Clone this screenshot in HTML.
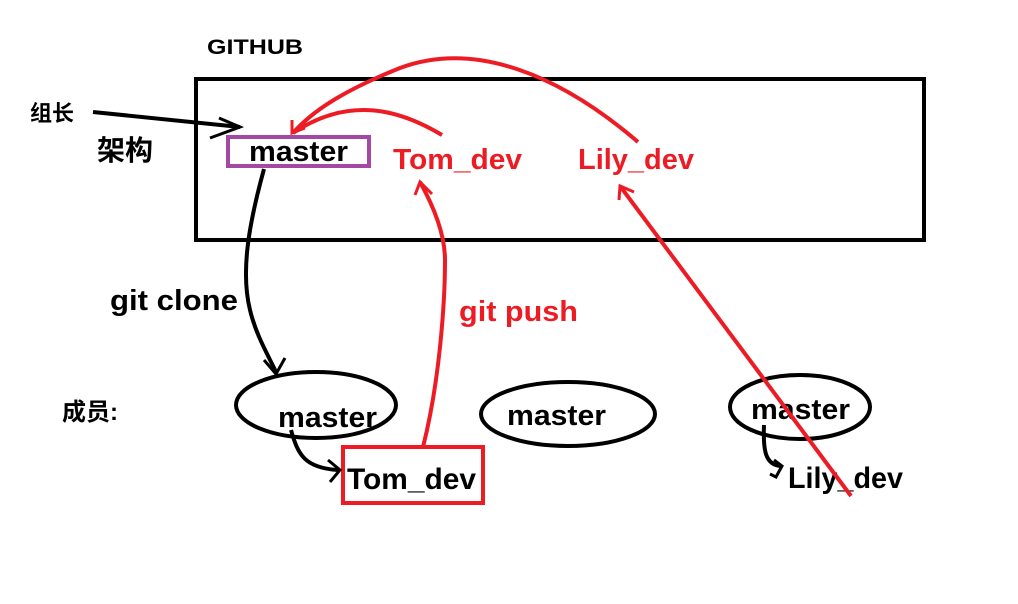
<!DOCTYPE html>
<html><head><meta charset="utf-8"><style>
html,body{margin:0;padding:0;background:#fff;}
svg{display:block;}
text{font-family:"Liberation Sans","Noto Sans CJK SC",sans-serif;font-weight:bold;}
</style></head><body>
<svg width="1018" height="604" viewBox="0 0 1018 604" xmlns="http://www.w3.org/2000/svg">
<rect width="1018" height="604" fill="#fff"/>
<text x="207" y="54" font-size="21" fill="#000" textLength="96" lengthAdjust="spacingAndGlyphs">GITHUB</text>
<rect x="196" y="79" width="728" height="161" fill="none" stroke="#000" stroke-width="4"/>
<text x="30" y="121" font-size="22" fill="#000">组长</text>
<text x="97" y="160" font-size="28" fill="#000">架构</text>
<path d="M93 112 L240 127" stroke="#000" stroke-width="4" fill="none"/>
<path d="M219 118 L240 127 L210 138" stroke="#000" stroke-width="3" fill="none"/>
<rect x="228" y="137" width="141" height="29" fill="none" stroke="#a349a4" stroke-width="4"/>
<text x="249" y="161" font-size="29" fill="#000" textLength="99" lengthAdjust="spacingAndGlyphs">master</text>
<text x="393" y="169" font-size="29" fill="#ed1c24" textLength="129" lengthAdjust="spacingAndGlyphs">Tom_dev</text>
<text x="578" y="169" font-size="29" fill="#ed1c24" textLength="116" lengthAdjust="spacingAndGlyphs">Lily_dev</text>
<path d="M442 135 C400 110 350 95 293 133" stroke="#ed1c24" stroke-width="4" fill="none"/>
<path d="M638 142 C560 75 475 40 400 68 C350 88 315 108 293 133" stroke="#ed1c24" stroke-width="4" fill="none"/>
<path d="M292 120 L292 133 L305 128" stroke="#ed1c24" stroke-width="3" fill="none"/>
<path d="M264 169 C250 220 240 270 250 310 C256 335 268 355 276 372" stroke="#000" stroke-width="4" fill="none"/>
<path d="M264 360 L276 374 L285 358" stroke="#000" stroke-width="3" fill="none"/>
<text x="110" y="310" font-size="29" fill="#000" textLength="128" lengthAdjust="spacingAndGlyphs">git clone</text>
<path d="M423 447 C440 380 445 300 445 260 C445 230 430 200 420 182" stroke="#ed1c24" stroke-width="4" fill="none"/>
<path d="M415 195 L420 182 L432 194" stroke="#ed1c24" stroke-width="3" fill="none"/>
<text x="459" y="321" font-size="29" fill="#ed1c24" textLength="119" lengthAdjust="spacingAndGlyphs">git push</text>
<path d="M619 200 L620 186 L634 192" stroke="#ed1c24" stroke-width="3" fill="none"/>
<text x="62" y="420" font-size="24" fill="#000">成员:</text>
<ellipse cx="316" cy="405" rx="80" ry="33" fill="none" stroke="#000" stroke-width="4"/>
<ellipse cx="568" cy="414" rx="87" ry="32" fill="none" stroke="#000" stroke-width="4"/>
<ellipse cx="800" cy="407" rx="70" ry="32" fill="none" stroke="#000" stroke-width="4"/>
<text x="278" y="427" font-size="29" fill="#000" textLength="99" lengthAdjust="spacingAndGlyphs">master</text>
<text x="507" y="425" font-size="29" fill="#000" textLength="99" lengthAdjust="spacingAndGlyphs">master</text>
<text x="751" y="419" font-size="29" fill="#000" textLength="99" lengthAdjust="spacingAndGlyphs">master</text>
<rect x="343" y="447" width="140" height="56" fill="none" stroke="#ed1c24" stroke-width="4"/>
<text x="347" y="489" font-size="30" fill="#000" textLength="129" lengthAdjust="spacingAndGlyphs">Tom_dev</text>
<text x="788" y="488" font-size="30" fill="#000" textLength="115" lengthAdjust="spacingAndGlyphs">Lily_dev</text>
<path d="M291 430 C298 455 305 468 338 470" stroke="#000" stroke-width="4" fill="none"/>
<path d="M328 460 L340 470 L330 482" stroke="#000" stroke-width="3" fill="none"/>
<path d="M764 425 C763 450 765 465 781 466" stroke="#000" stroke-width="4" fill="none"/>
<path d="M774 460 L782 466 L776 477 L770 474" stroke="#000" stroke-width="3" fill="none"/>
<path d="M851 496 L620 186" stroke="#ed1c24" stroke-width="4" fill="none"/>
</svg>
</body></html>
